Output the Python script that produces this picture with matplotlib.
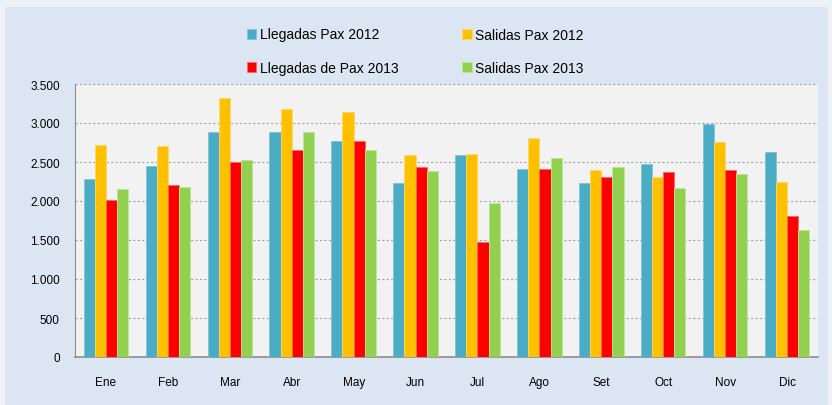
import numpy as np
import matplotlib
matplotlib.use("Agg")
import matplotlib.pyplot as plt
from matplotlib.patches import Rectangle
from matplotlib.ticker import FuncFormatter

months = ["Ene", "Feb", "Mar", "Abr", "May", "Jun", "Jul", "Ago", "Set", "Oct", "Nov", "Dic"]
llegadas_2012 = [2280, 2445, 2880, 2880, 2775, 2225, 2590, 2410, 2235, 2475, 2985, 2630]
salidas_2012 = [2720, 2705, 3315, 3185, 3145, 2590, 2605, 2810, 2400, 2305, 2755, 2245]
llegadas_2013 = [2015, 2200, 2505, 2660, 2765, 2435, 1475, 2410, 2305, 2370, 2400, 1810]
salidas_2013 = [2150, 2180, 2520, 2890, 2660, 2390, 1975, 2545, 2435, 2165, 2340, 1630]

series = [
    ("Llegadas Pax 2012", llegadas_2012, "#4bacc6", "#7fc4d8"),
    ("Salidas Pax 2012", salidas_2012, "#ffc000", "#ffd966"),
    ("Llegadas de Pax 2013", llegadas_2013, "#ff0000", "#ff6666"),
    ("Salidas Pax 2013", salidas_2013, "#92d050", "#bde59a"),
]

plt.rcParams["font.family"] = ["Liberation Sans", "DejaVu Sans"]

fig = plt.figure(figsize=(8.32, 4.06), dpi=100)
fig.patch.set_facecolor("#eef2f7")
fig.patches.append(Rectangle((5 / 832, 0), 823 / 832, 1 - 8 / 406,
                             transform=fig.transFigure, facecolor="#dce6f2",
                             edgecolor="none", zorder=-5))

ax = fig.add_axes([75 / 832, 1 - 358 / 406, 743 / 832, 273 / 406])
ax.set_facecolor("#f2f2f2")

x = np.arange(len(months))
w = 0.18
handles = {}
for i, (name, vals, color, edge) in enumerate(series):
    b = ax.bar(x + (i - 1.5) * w, vals, w, color=color, edgecolor=edge,
               linewidth=0.6, label=name, zorder=3)
    handles[name] = b

ax.set_xlim(-0.5, len(months) - 0.5)
ax.set_ylim(0, 3500)
ax.set_yticks(np.arange(0, 3501, 500))
ax.yaxis.set_major_formatter(FuncFormatter(lambda v, p: f"{int(v):,}".replace(",", ".")))
ax.set_xticks(x)
ax.set_xticklabels(months)
ax.tick_params(axis="both", length=0, labelsize=8.5, colors="black")
ax.tick_params(axis="x", pad=14)
ax.tick_params(axis="y", pad=11)
ax.yaxis.grid(True, linestyle=(0, (2, 2)), color="#a6a6a6", linewidth=0.8, zorder=0)

for s in ["top", "right"]:
    ax.spines[s].set_visible(False)
ax.spines["left"].set_color("#8c8c8c")
ax.spines["bottom"].set_color("#8c8c8c")
ax.spines["bottom"].set_linewidth(1.2)

order = ["Llegadas Pax 2012", "Llegadas de Pax 2013", "Salidas Pax 2012", "Salidas Pax 2013"]
fig.legend([handles[n] for n in order], order, ncol=2, loc="upper left",
           bbox_to_anchor=(234 / 832, 1 - 16 / 406), frameon=False,
           fontsize=10, handlelength=0.7, handleheight=0.7, handletextpad=0.25,
           labelspacing=1.4, columnspacing=4.6)

fig.savefig("out.png", dpi=100, facecolor=fig.get_facecolor())
